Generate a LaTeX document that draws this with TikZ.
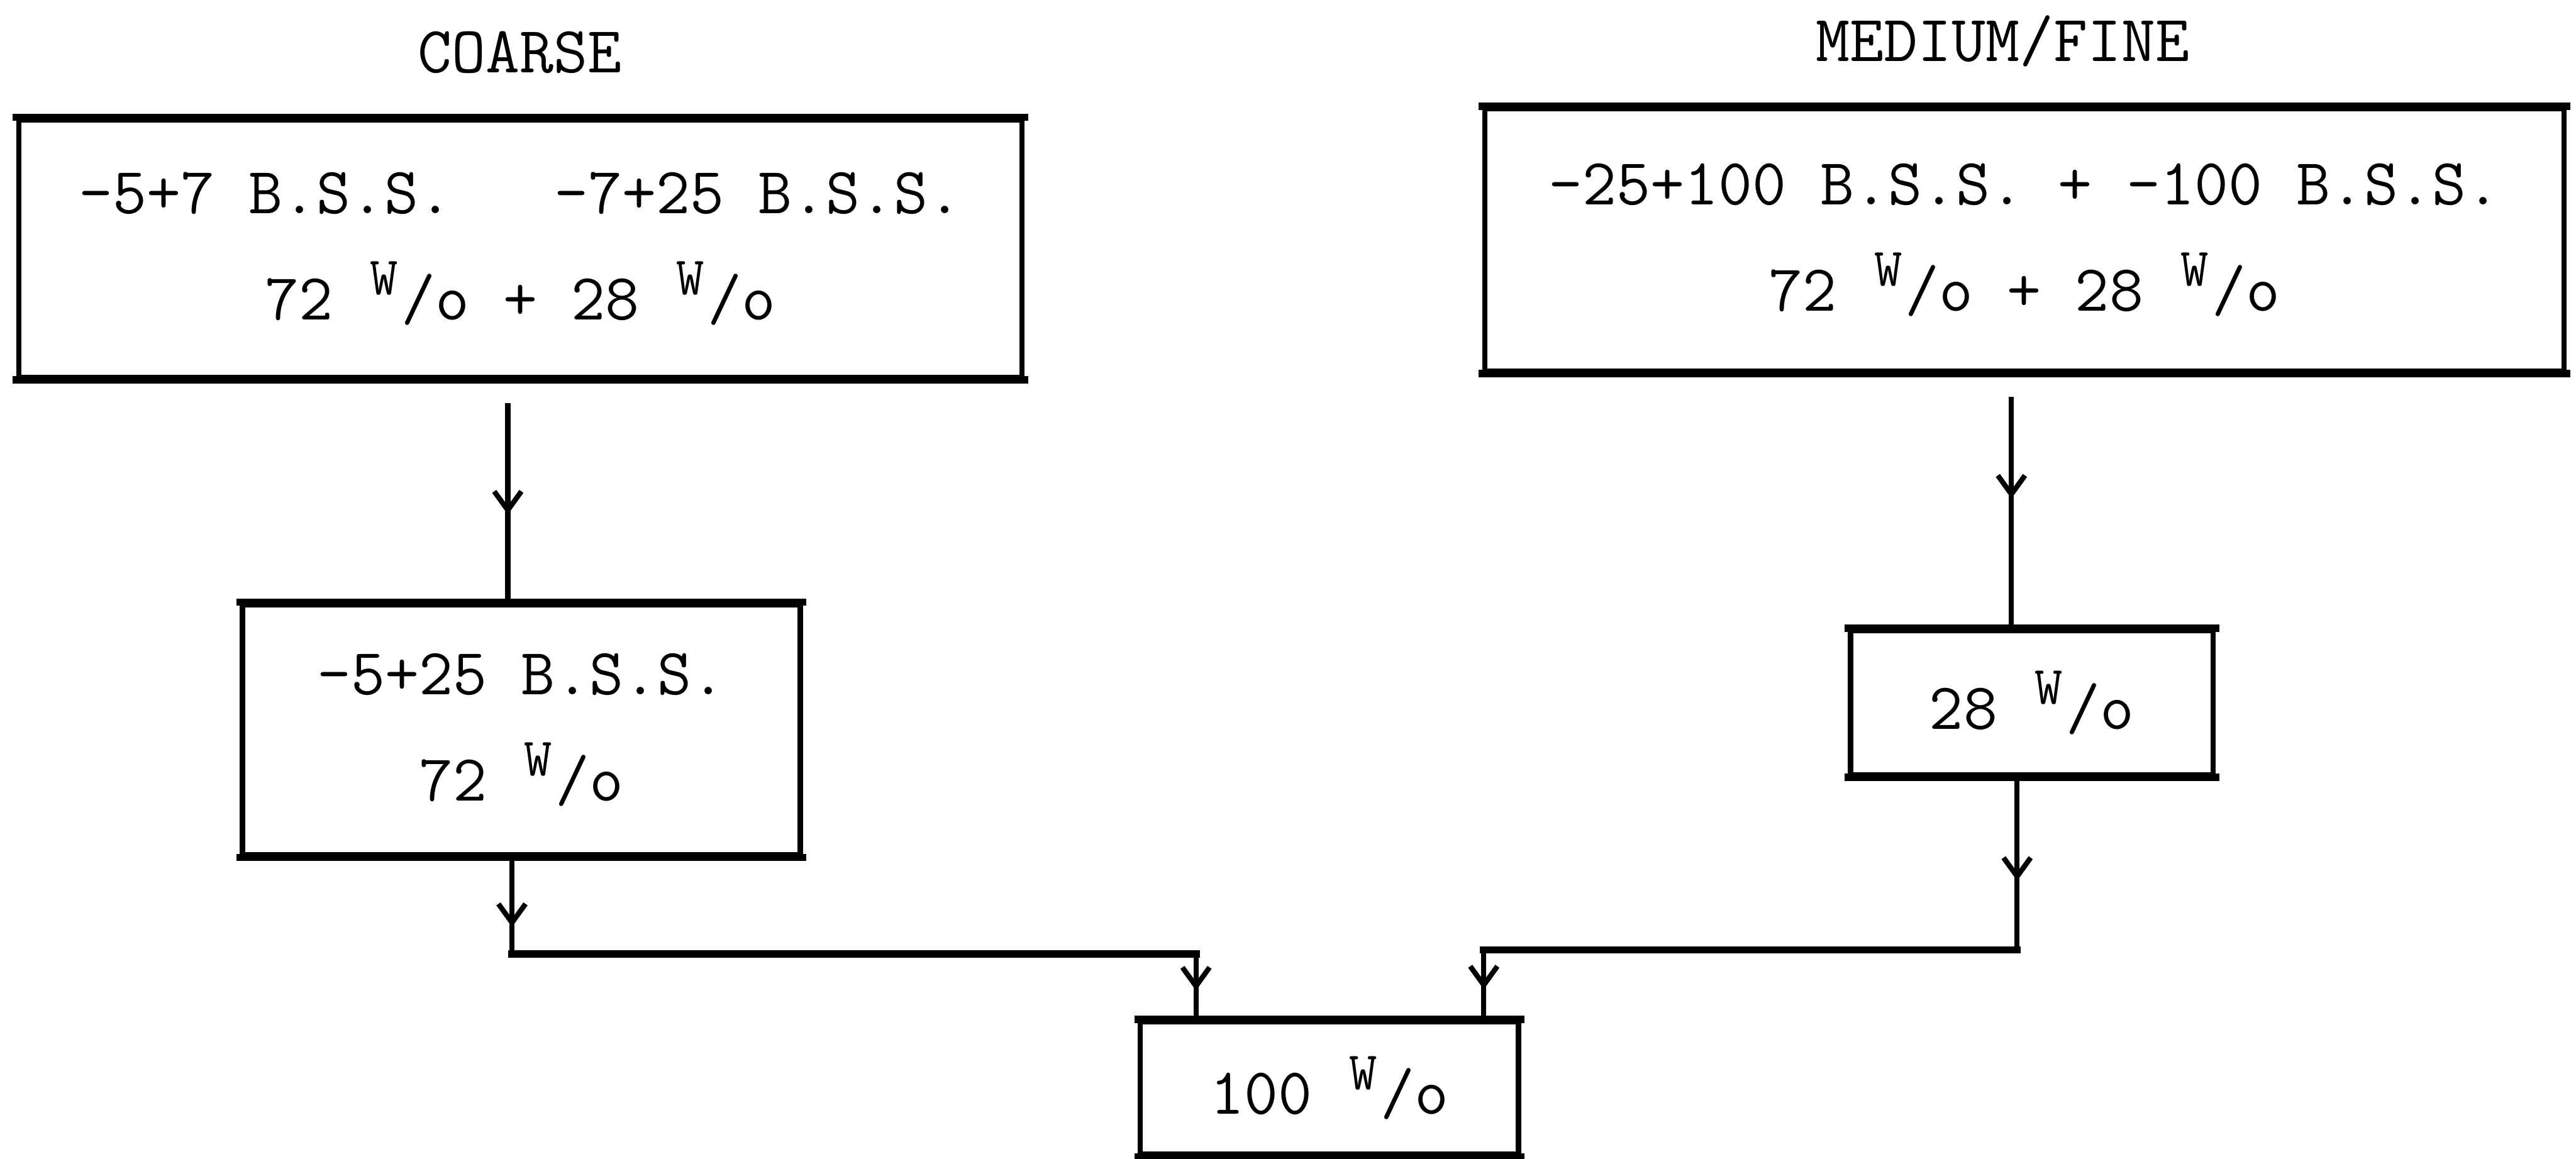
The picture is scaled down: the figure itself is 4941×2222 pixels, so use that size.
\documentclass[tikz,border=0pt]{standalone}
\usepackage{graphicx}
\usepackage{tikz}
\usetikzlibrary{arrows.meta,positioning,decorations.markings}

\newcommand{\wpc}{\makebox[0.525em]{\raisebox{0.38em}{\scalebox{0.82}{W}}}/o}

\begin{document}
\begin{tikzpicture}[
  x=0.05mm, y=-0.05mm,
  font=\fontsize{18}{29}\selectfont\ttfamily\frenchspacing,
  box/.style ={draw,line width=1.4pt,align=center,inner sep=0pt},
  ttl/.style ={inner sep=1pt},
  flow/.style={line width=1.4pt,postaction={decorate},
               decoration={markings,mark=at position #1 with
               {\arrow{Straight Barb[length=1.8mm,width=2.6mm,line width=1.4pt]}}}},
  flow/.default=0.5,
  bar/.style ={line width=2pt,line cap=rect}]

\useasboundingbox (0,0) rectangle (4941,2222);

% ---------- Row 1 : feed blends ----------
\node[ttl] (tcoarse) at (997,100) {COARSE};
\node[ttl] (tfine)   at (3841,79) {MEDIUM/FINE};

\node[box,minimum width=96.2mm,minimum height=24.7mm] (coarse) at (998,477)
  {-5+7 B.S.S.\ \ \ -7+25 B.S.S.\\72 \wpc{} + 28 \wpc};
\node[box,minimum width=103.5mm,minimum height=25.15mm] (medfine) at (3883,460)
  {-25+100 B.S.S. + -100 B.S.S.\\72 \wpc{} + 28 \wpc};

% ---------- Row 2 : fractions taken ----------
\node[box,minimum width=53.5mm,minimum height=24mm] (coarsecut) at (1000,1400)
  {-5+25 B.S.S.\\72 \wpc};
\node[box,minimum width=34.75mm,minimum height=13.8mm] (finecut) at (3897,1348)
  {28 \wpc};

% ---------- Row 3 : mix ----------
\node[box,minimum width=36.25mm,minimum height=12.7mm] (blend) at (2550,2087)
  {100 \wpc};

% typed rules: heavier top and bottom edges
\foreach \n in {coarse,medfine,coarsecut,finecut,blend}
  \draw[bar] (\n.north west) -- (\n.north east) (\n.south west) -- (\n.south east);

\coordinate (c1) at (974,773);
\coordinate (c2) at (3858,761);
\coordinate (j1) at (982,1830);
\coordinate (j2) at (2294,1830);
\coordinate (j3) at (3869,1822);
\coordinate (j4) at (2846,1822);

\draw[flow=0.56] (c1) -- (c1 |- coarsecut.north);
\draw[flow=0.44] (c2) -- (c2 |- finecut.north);

\draw[flow=0.72] (j1 |- coarsecut.south) -- (j1);
\draw[bar] (j1) -- (j2);
\draw[flow=0.56] (j2) -- (j2 |- blend.north);

\draw[flow=0.6] (j3 |- finecut.south) -- (j3);
\draw[bar] (j3) -- (j4);
\draw[flow=0.57] (j4) -- (j4 |- blend.north);

\end{tikzpicture}
\end{document}
